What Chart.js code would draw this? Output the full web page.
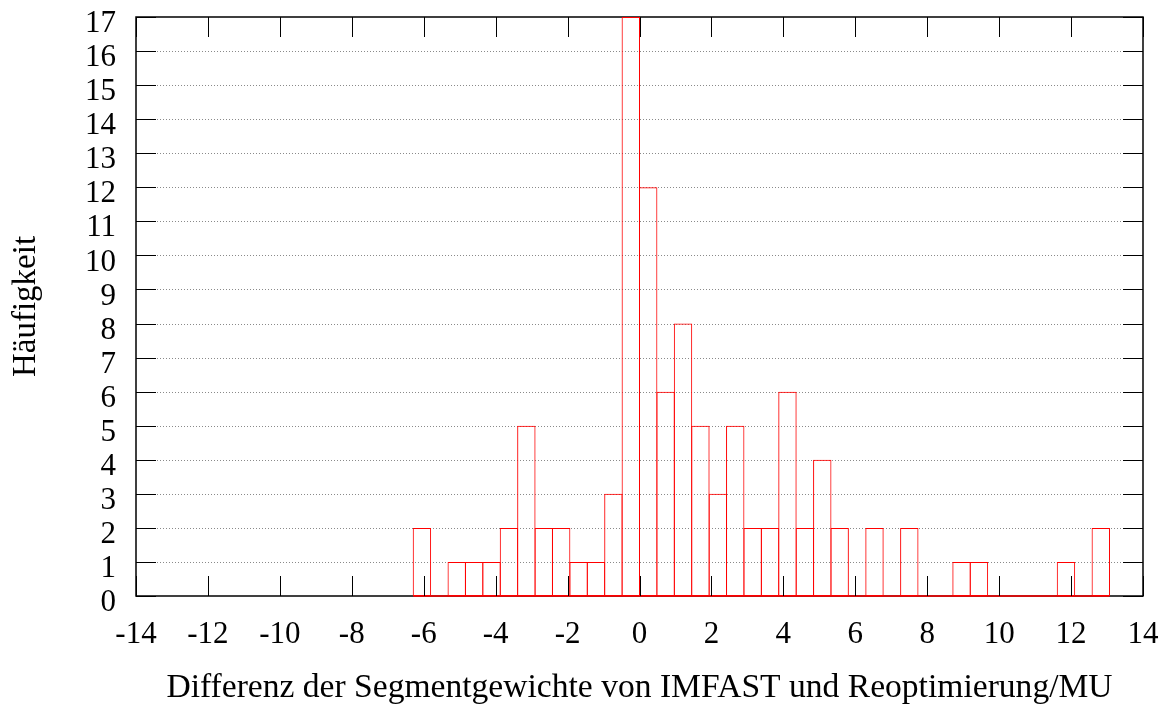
<!DOCTYPE html>
<html>
<head>
<meta charset="utf-8">
<script src="https://cdn.jsdelivr.net/npm/chart.js@4.4.0/dist/chart.umd.min.js"></script>
<style>
  html, body { margin: 0; background: #fff; }
  canvas { display: block; }
</style>
</head>
<body>
<canvas id="hist" width="1163" height="711"></canvas>
<script>
// Histogram of segment weight differences (bins of ~0.484 MU)
const BIN_WIDTH = 0.484;
const binCenters = [
  -6.05, -5.566, -5.082, -4.598, -4.114, -3.63, -3.146, -2.662, -2.178, -1.694,
  -1.21, -0.726, -0.242, 0.242, 0.726, 1.21, 1.694, 2.178, 2.662, 3.146,
  3.63, 4.114, 4.598, 5.082, 5.566, 6.05, 6.534, 7.018, 7.502, 7.986,
  8.47, 8.954, 9.438, 9.922, 10.406, 10.89, 11.374, 11.858, 12.342, 12.826,
];
const counts = [
  2, 0, 1, 1, 1, 2, 5, 2, 2, 1,
  1, 3, 17, 12, 6, 8, 5, 3, 5, 2,
  2, 6, 2, 4, 2, 0, 2, 0, 2, 0,
  0, 1, 1, 0, 0, 0, 0, 1, 0, 2,
];

const X_MIN = -14, X_MAX = 14, X_STEP = 2;
const Y_MIN = 0, Y_MAX = 17, Y_STEP = 1;

const xTitle = "Differenz der Segmentgewichte von IMFAST und Reoptimierung/MU";
const yTitle = "Häufigkeit";

const FONT = "'Liberation Serif', 'Times New Roman', serif";
const RED = "#ff0000";
const TICK_LEN = 20;

const bars = binCenters.map((x, i) => ({ x: x, y: counts[i] }));

// keep the plot box fixed, labels may hang outside it
function fixAxis(size, prop) {
  return (axis) => {
    axis[prop] = size;
    axis.paddingLeft = axis.paddingRight = 0;
    axis.paddingTop = axis.paddingBottom = 0;
  };
}

// gnuplot-like frame: dotted grid, border, inward ticks on all sides
const framePlugin = {
  id: "frame",
  beforeDatasetsDraw(chart) {
    const { ctx, chartArea: a, scales: { y } } = chart;
    ctx.save();
    ctx.strokeStyle = "#8a8a8a";
    ctx.lineWidth = 1;
    ctx.setLineDash([1, 2]);
    for (const t of y.ticks) {
      if (t.value <= Y_MIN || t.value >= Y_MAX) continue;
      const py = Math.round(y.getPixelForValue(t.value)) + 0.5;
      ctx.beginPath();
      ctx.moveTo(a.left, py);
      ctx.lineTo(a.right, py);
      ctx.stroke();
    }
    ctx.setLineDash([]);
    ctx.beginPath();
    ctx.strokeStyle = "#000";
    ctx.lineWidth = 1.5;
    ctx.strokeRect(a.left, a.top, a.right - a.left, a.bottom - a.top);
    ctx.beginPath();
    ctx.restore();
  },
  afterDatasetsDraw(chart) {
    const { ctx, chartArea: a, scales: { x, y } } = chart;
    ctx.save();
    // empty bins still show as a red run along the base line
    ctx.fillStyle = RED;
    const x0 = x.getPixelForValue(binCenters[0] - BIN_WIDTH / 2);
    const x1 = x.getPixelForValue(binCenters[binCenters.length - 1] + BIN_WIDTH / 2);
    ctx.fillRect(x0, a.bottom - 0.75, x1 - x0, 1.5);

    // ticks snapped to whole pixels
    ctx.fillStyle = "#000";
    const top = Math.round(a.top);
    const bottom = Math.round(a.bottom);
    const left = Math.round(a.left);
    const right = Math.round(a.right);
    for (const t of x.ticks) {
      const px = Math.round(x.getPixelForValue(t.value));
      ctx.fillRect(px, bottom - TICK_LEN, 1, TICK_LEN);
      ctx.fillRect(px, top, 1, TICK_LEN);
    }
    for (const t of y.ticks) {
      const py = Math.round(y.getPixelForValue(t.value));
      ctx.fillRect(left, py, TICK_LEN, 1);
      ctx.fillRect(right - TICK_LEN, py, TICK_LEN, 1);
    }
    ctx.restore();
  },
};

new Chart(document.getElementById("hist"), {
  type: "bar",
  data: {
    datasets: [
      {
        data: bars,
        backgroundColor: "rgba(0,0,0,0)",
        borderColor: RED,
        borderWidth: 1,
        borderSkipped: false,
        inflateAmount: 0,
        categoryPercentage: 1,
        barPercentage: 1.057,
      },
    ],
  },
  options: {
    responsive: false,
    animation: false,
    devicePixelRatio: 1,
    layout: { padding: { top: 17, right: 20, left: 0, bottom: 0 } },
    plugins: {
      legend: { display: false },
      tooltip: { enabled: false },
    },
    scales: {
      x: {
        type: "linear",
        offset: false,
        min: X_MIN,
        max: X_MAX,
        afterFit: fixAxis(115, "height"),
        grid: { display: false, drawTicks: false },
        border: { display: false },
        ticks: {
          stepSize: X_STEP,
          autoSkip: false,
          padding: 20,
          color: "#000",
          font: { family: FONT, size: 31 },
          maxRotation: 0,
          callback: (v) => String(v),
        },
        title: {
          display: true,
          text: xTitle,
          color: "#000",
          font: { family: FONT, size: 33.6, lineHeight: 1 },
          padding: { top: 0, bottom: 6 },
        },
      },
      y: {
        min: Y_MIN,
        max: Y_MAX,
        afterFit: fixAxis(136, "width"),
        grid: { display: false, drawTicks: false },
        border: { display: false },
        ticks: {
          stepSize: Y_STEP,
          autoSkip: false,
          padding: 20,
          labelOffset: 7,
          color: "#000",
          font: { family: FONT, size: 31 },
          callback: (v) => String(v),
        },
        title: {
          display: true,
          text: yTitle,
          color: "#000",
          font: { family: FONT, size: 33, lineHeight: 1 },
          padding: { top: 10, bottom: 0 },
        },
      },
    },
  },
  plugins: [framePlugin],
});
</script>
</body>
</html>
